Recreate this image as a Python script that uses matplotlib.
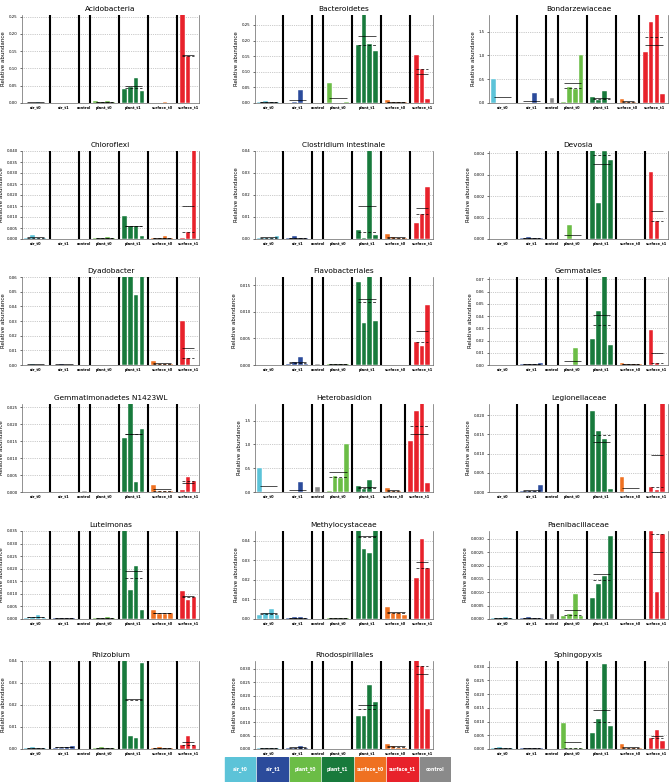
import matplotlib
matplotlib.use("Agg")
import matplotlib.pyplot as plt
from matplotlib.patches import Rectangle
import numpy as np

groups = ["air_t0", "air_t1", "control", "plant_t0", "plant_t1", "surface_t0", "surface_t1"]
group_colors = ["#5cc3d8", "#2b4b9b", "#8a8a8a", "#6bbd46", "#187a3c", "#ef7121", "#e8222b"]
legend_order = ["air_t0", "air_t1", "plant_t0", "plant_t1", "surface_t0", "surface_t1", "control"]

# values per group, same order as groups
acidobacteria = [[0.001, 0.001, 0.003, 0.001], [0.0, 0.0, 0.0005, 0.0], [0.001],
                 [0.006, 0.002, 0.005, 0.002], [0.042, 0.046, 0.072, 0.034],
                 [0.001, 0.0005, 0.002, 0.001], [0.285, 0.135, 0.0]]
bacteroidetes = [[0.003, 0.008, 0.004, 0.003], [0.001, 0.002, 0.041, 0.0], [0.001],
                 [0.065, 0.001, 0.001, 0.002], [0.185, 0.32, 0.188, 0.168],
                 [0.011, 0.002, 0.003, 0.002], [0.155, 0.11, 0.012]]
bondarzewiaceae = [[0.5, 0.0, 0.0, 0.0], [0.0, 0.0, 0.2, 0.0], [0.1],
                   [0.02, 0.33, 0.29, 1.0], [0.12, 0.06, 0.25, 0.0],
                   [0.08, 0.02, 0.02], [1.07, 1.7, 1.9, 0.18]]
chloroflexi = [[0.0005, 0.002, 0.0005, 0.0005], [0.0002, 0.0002, 0.0002, 0.0002], [0.0],
               [0.0003, 0.0005, 0.001, 0.0005], [0.0105, 0.006, 0.006, 0.0015],
               [0.0003, 0.0003, 0.0012, 0.0003], [0.0003, 0.0032, 0.0415]]
clostridium = [[0.0005, 0.0005, 0.0005, 0.0015], [0.0005, 0.0012, 0.0005, 0.0005], [0.0],
               [0.0002, 0.0002, 0.0002, 0.0002], [0.0043, 0.0005, 0.053, 0.0018],
               [0.0023, 0.0008, 0.0005, 0.0005], [0.0075, 0.0114, 0.0235]]
devosia = [[0.0, 0.0, 0.0, 0.0], [0.00005, 0.0001, 0.00005, 0.00005], [0.0],
           [0.00002, 0.00065, 0.00002, 0.00002], [0.0045, 0.0017, 0.0041, 0.0037],
           [0.00001, 0.00001, 0.00001, 0.00001], [0.0031, 0.00085, 0.0]]
dyadobacter = [[0.0003, 0.0005, 0.0003, 0.0003], [0.0003, 0.0007, 0.0003, 0.0003], [0.0],
               [0.0001, 0.0001, 0.0001, 0.0001], [0.09, 0.08, 0.048, 0.1],
               [0.0025, 0.0007, 0.0007, 0.0005], [0.030, 0.005, 0.0]]
flavobacteriales = [[0.00005, 0.00005, 0.00005, 0.00005], [0.0001, 0.0005, 0.0015, 0.0002], [0.0001],
                    [0.0001, 0.0001, 0.0001, 0.0001], [0.0155, 0.0079, 0.018, 0.0082],
                    [0.0, 0.0, 0.0, 0.0], [0.0044, 0.0035, 0.0113]]
gemmatales = [[0.0, 0.0, 0.0, 0.0], [0.0005, 0.0005, 0.0005, 0.0015], [0.0],
              [0.0002, 0.0002, 0.014, 0.0002], [0.0215, 0.0445, 0.08, 0.0165],
              [0.0015, 0.0005, 0.0012, 0.0005], [0.029, 0.0015, 0.0]]
gemmatimonadetes = [[0.00005, 0.00005, 0.00005, 0.00005], [0.0001, 0.00005, 0.00005, 0.00005], [0.0002],
                    [0.00005, 0.00005, 0.00005, 0.00005], [0.016, 0.031, 0.003, 0.0185],
                    [0.002, 0.0004, 0.0004, 0.0004], [0.0006, 0.0044, 0.0033]]
heterobasidion = [[0.5, 0.0, 0.0, 0.0], [0.0, 0.0, 0.2, 0.0], [0.1],
                  [0.02, 0.33, 0.29, 1.0], [0.12, 0.06, 0.25, 0.0],
                  [0.08, 0.02, 0.02], [1.07, 1.7, 1.9, 0.18]]
legionellaceae = [[0.0, 0.0, 0.0, 0.0], [0.0002, 0.0002, 0.0002, 0.0018], [0.0],
                  [0.00005, 0.00005, 0.00005, 0.00005], [0.0211, 0.0159, 0.0139, 0.0008],
                  [0.0039, 0.0001, 0.0001, 0.0001], [0.0012, 0.0004, 0.027]]
luteimonas = [[0.0005, 0.0008, 0.0015, 0.0003], [0.0002, 0.0002, 0.0002, 0.0002], [0.0],
              [0.0003, 0.0005, 0.0008, 0.0003], [0.04, 0.0115, 0.021, 0.0035],
              [0.0035, 0.002, 0.002, 0.0025], [0.011, 0.0075, 0.0088]]
methylocystaceae = [[0.002, 0.003, 0.005, 0.002], [0.0005, 0.001, 0.001, 0.0005], [0.0],
                    [0.0005, 0.0005, 0.0005, 0.0005], [0.052, 0.036, 0.034, 0.048],
                    [0.006, 0.003, 0.003, 0.002], [0.021, 0.041, 0.026]]
paenibacillaceae = [[0.00002, 0.00005, 0.00008, 0.00002], [0.00002, 0.00008, 0.00002, 0.00002], [0.00018],
                    [0.0001, 0.0002, 0.00095, 0.0001], [0.0008, 0.0013, 0.0016, 0.0031],
                    [0.0, 0.0, 0.0, 0.0], [0.0033, 0.001, 0.0032]]
rhizobium = [[0.0005, 0.001, 0.0005, 0.0005], [0.0005, 0.0005, 0.001, 0.0015], [0.0],
             [0.0005, 0.001, 0.0005, 0.0005], [0.041, 0.006, 0.005, 0.039],
             [0.0005, 0.001, 0.0005, 0.0005], [0.002, 0.006, 0.002]]
rhodospirillales = [[0.0002, 0.0002, 0.0003, 0.0002], [0.0003, 0.0005, 0.0012, 0.0003], [0.0],
                    [0.0001, 0.0001, 0.0001, 0.0001], [0.0125, 0.0125, 0.024, 0.0175],
                    [0.002, 0.001, 0.0005, 0.0005], [0.038, 0.031, 0.015]]
sphingopyxis = [[0.0005, 0.0008, 0.0005, 0.0003], [0.0003, 0.0005, 0.0003, 0.0003], [0.0],
                [0.0095, 0.0002, 0.0002, 0.0002], [0.006, 0.011, 0.031, 0.0085],
                [0.002, 0.0005, 0.0005, 0.0005], [0.004, 0.0068, 0.003]]

# name, values, y top, tick step
panels = [
    ("Acidobacteria", acidobacteria, 0.255, 0.05),
    ("Bacteroidetes", bacteroidetes, 0.282, 0.05),
    ("Bondarzewiaceae", bondarzewiaceae, 1.85, 0.5),
    ("Chloroflexi", chloroflexi, 0.040, 0.005),
    ("Clostridium intestinale", clostridium, 0.040, 0.01),
    ("Devosia", devosia, 0.0041, 0.001),
    ("Dyadobacter", dyadobacter, 0.060, 0.01),
    ("Flavobacteriales", flavobacteriales, 0.0165, 0.005),
    ("Gemmatales", gemmatales, 0.072, 0.01),
    ("Gemmatimonadetes N1423WL", gemmatimonadetes, 0.026, 0.005),
    ("Heterobasidion", heterobasidion, 1.85, 0.5),
    ("Legionellaceae", legionellaceae, 0.0229, 0.005),
    ("Luteimonas", luteimonas, 0.035, 0.005),
    ("Methylocystaceae", methylocystaceae, 0.045, 0.01),
    ("Paenibacillaceae", paenibacillaceae, 0.0033, 0.0005),
    ("Rhizobium", rhizobium, 0.040, 0.01),
    ("Rhodospirillales", rhodospirillales, 0.033, 0.005),
    ("Sphingopyxis", sphingopyxis, 0.032, 0.005),
]

W, H = 669, 784
fig = plt.figure(figsize=(W / 100, H / 100), dpi=100)

col_left = [22, 255, 489]
col_width = [177, 178, 179]
row_top = [15, 151, 277, 404, 531, 661]
ax_h = 88


def draw_panel(ax, name, values, ytop, ystep):
    pos = 0
    centers = []
    for i, vals in enumerate(values):
        if i > 0:
            ax.axvline(pos, color="black", lw=1.5, zorder=3)
            pos += 1
        xs = np.arange(pos, pos + len(vals))
        ax.bar(xs, vals, width=0.8, color=group_colors[i], edgecolor="white",
               linewidth=0.3, zorder=2)
        if len(vals) > 1:
            ax.hlines(np.mean(vals), xs[0], xs[-1], color="black", lw=0.7,
                      alpha=0.7, zorder=4)
            ax.hlines(np.median(vals), xs[0], xs[-1], color="black", lw=0.7,
                      alpha=0.7, linestyles=(0, (3, 2)), zorder=4)
        centers.append(xs.mean())
        pos += len(vals)
    ax.set_xlim(-0.8, 29.9)
    ax.set_ylim(0, ytop)
    ax.set_yticks(np.arange(0, ytop + 1e-12, ystep))
    ax.set_xticks(centers)
    ax.set_xticklabels(groups, fontsize=2.6, fontweight="bold")
    ax.tick_params(axis="y", labelsize=2.8, length=1.5, width=0.4, pad=1.5)
    ax.tick_params(axis="x", length=0, pad=2)
    ax.yaxis.grid(True, linestyle=":", color="0.6", lw=0.5)
    ax.set_axisbelow(True)
    for s in ["left", "right", "bottom"]:
        ax.spines[s].set_linewidth(0.5)
        ax.spines[s].set_color("0.4")
    ax.spines["top"].set_visible(False)
    ax.set_title(name, fontsize=5.3, pad=3)
    ax.set_ylabel("Relative abundance", fontsize=4, labelpad=2)


for k, (name, values, ytop, ystep) in enumerate(panels):
    r, c = divmod(k, 3)
    ax = fig.add_axes([col_left[c] / W, 1 - (row_top[r] + ax_h) / H,
                       col_width[c] / W, ax_h / H])
    draw_panel(ax, name, values, ytop, ystep)

# legend boxes
lax = fig.add_axes([224 / W, 2 / H, 227 / W, 25 / H])
lax.set_xlim(0, len(legend_order))
lax.set_ylim(0, 1)
lax.axis("off")
for i, g in enumerate(legend_order):
    col = group_colors[groups.index(g)]
    lax.add_patch(Rectangle((i + 0.03, 0), 0.94, 1, color=col))
    lax.text(i + 0.5, 0.5, g, color="white", fontsize=3.3, fontweight="bold",
             ha="center", va="center")

fig.savefig("out.png", dpi=100)
